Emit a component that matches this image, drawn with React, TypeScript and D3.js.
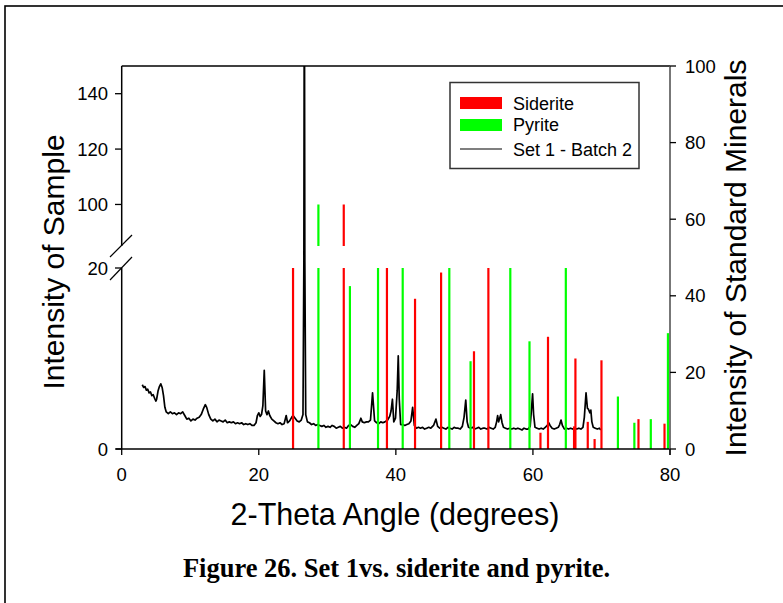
import React from "react";
import * as d3 from "d3";

// ---- data ----
const xTicks = [0, 20, 40, 60, 80];
const leftTicks = [0, 20, 100, 120, 140];
const rightTicks = [0, 20, 40, 60, 80, 100];

// Siderite standard lines: [2-theta, relative intensity]
const sideriteAngles = [25.0, 32.4, 38.7, 42.8, 46.6, 51.4, 53.5, 61.1, 62.2, 66.0, 66.2, 68.0, 69.0, 70.0, 75.4, 79.2];
const sideriteValues = [45, 100, 30, 16.6, 19.5, 10.8, 35, 1.8, 12.4, 2.5, 10.0, 3.0, 1.1, 9.8, 3.3, 2.8];

// Pyrite standard lines
const pyriteAngles = [28.7, 33.3, 37.4, 41.0, 47.8, 50.9, 56.7, 59.5, 64.8, 72.4, 74.8, 77.2, 79.7];
const pyriteValues = [100, 18.0, 60, 50, 40, 9.7, 70, 11.9, 30, 5.8, 2.9, 3.3, 12.8];

// Sample: Set 1 - Batch 2 (angle, intensity)
const sampleAngles = [
  3.0, 3.2, 3.4, 3.6, 3.8, 4.0, 4.2, 4.4, 4.6, 4.8, 5.0, 5.1, 5.3, 5.5, 5.7, 5.9, 6.1, 6.3, 6.5, 6.8,
  7.1, 7.4, 7.7, 8.0, 8.3, 8.6, 8.9, 9.2, 9.5, 9.8, 10.1, 10.4, 10.7, 11.0, 11.3, 11.6, 11.9, 12.2, 12.4, 12.7,
  13.0, 13.3, 13.6, 13.9, 14.2, 14.5, 14.8, 15.1, 15.4, 15.7, 16.0, 16.3, 16.6, 16.9, 17.2, 17.5, 17.8, 18.1, 18.4, 18.7,
  19.0, 19.3, 19.6, 19.8, 20.0, 20.2, 20.4, 20.6, 20.8, 21.0, 21.2, 21.4, 21.6, 21.9, 22.2, 22.5, 22.8, 23.1, 23.4, 23.7,
  24.0, 24.2, 24.5, 24.8, 25.0, 25.3, 25.6, 25.9, 26.2, 26.45, 26.58, 26.65, 26.72, 26.85, 27.1, 27.4, 27.7, 28.0, 28.3, 28.6,
  28.9, 29.2, 29.5, 29.8, 30.1, 30.4, 30.7, 31.0, 31.3, 31.6, 31.9, 32.2, 32.5, 32.8, 33.1, 33.4, 33.7, 34.0, 34.3, 34.6,
  34.9, 35.1, 35.4, 35.7, 36.0, 36.3, 36.6, 36.9, 37.2, 37.5, 37.8, 38.1, 38.4, 38.8, 39.1, 39.3, 39.5, 39.7, 39.95, 40.2,
  40.35, 40.5, 40.7, 41.0, 41.3, 41.6, 41.9, 42.2, 42.45, 42.7, 43.0, 43.3, 43.6, 43.9, 44.2, 44.5, 44.8, 45.1, 45.5, 45.85,
  46.1, 46.4, 46.7, 47.0, 47.3, 47.6, 47.9, 48.2, 48.5, 48.8, 49.1, 49.4, 49.7, 49.95, 50.2, 50.4, 50.6, 50.9, 51.2, 51.5,
  51.8, 52.1, 52.4, 52.7, 53.0, 53.3, 53.6, 53.9, 54.2, 54.5, 54.7, 54.85, 55.0, 55.15, 55.3, 55.5, 55.7, 56.0, 56.3, 56.6,
  56.9, 57.2, 57.5, 57.8, 58.1, 58.4, 58.7, 59.0, 59.3, 59.6, 59.8, 59.95, 60.1, 60.3, 60.6, 60.9, 61.2, 61.5, 61.8, 62.1,
  62.3, 62.5, 62.8, 63.1, 63.4, 63.7, 63.9, 64.1, 64.3, 64.6, 64.9, 65.2, 65.5, 65.8, 66.1, 66.4, 66.7, 67.0, 67.3, 67.5,
  67.75, 67.95, 68.1, 68.3, 68.45, 68.6, 68.8, 69.1, 69.4, 69.7, 69.9,
];
const sampleValues = [
  7.1, 6.8, 6.9, 6.5, 6.6, 6.2, 6.3, 5.9, 6.0, 5.6, 5.3, 5.5, 6.4, 6.9, 7.2, 6.8, 5.9, 4.6, 4.1, 3.9,
  4.1, 3.9, 4.0, 3.8, 4.0, 3.9, 4.1, 3.7, 3.3, 3.4, 3.1, 3.3, 3.2, 3.4, 3.5, 3.8, 4.4, 4.9, 4.6, 3.8,
  3.3, 3.1, 3.3, 3.0, 3.2, 3.1, 3.0, 3.2, 2.9, 3.0, 2.9, 3.0, 2.8, 2.9, 2.8, 2.9, 2.7, 2.8, 2.7, 2.8,
  2.6, 2.6, 2.9, 3.7, 4.0, 3.6, 3.8, 4.8, 8.7, 4.2, 3.8, 4.2, 3.7, 3.3, 3.1, 2.9, 2.8, 2.9, 2.7, 2.8,
  3.7, 2.9, 3.1, 3.5, 3.7, 3.4, 3.1, 3.0, 3.2, 3.8, 40, 200, 40, 3.8, 3.0, 2.9, 2.7, 2.8, 2.6, 2.7,
  2.6, 2.5, 2.6, 2.4, 2.5, 2.4, 2.6, 2.5, 2.3, 2.4, 2.5, 2.3, 2.4, 2.3, 2.6, 2.7, 2.5, 2.4, 2.6, 2.8,
  3.4, 3.0, 2.9, 3.0, 3.0, 3.2, 6.2, 3.1, 2.9, 2.8, 3.0, 2.9, 3.0, 3.2, 3.6, 4.2, 5.5, 3.0, 3.4, 6.5,
  10.3, 5.5, 2.7, 2.7, 2.6, 2.7, 2.8, 3.1, 4.6, 2.6, 2.3, 2.4, 2.3, 2.4, 2.2, 2.3, 2.4, 2.3, 2.6, 3.3,
  2.5, 2.3, 2.4, 2.3, 2.2, 2.4, 2.3, 2.2, 2.4, 2.3, 2.3, 2.2, 2.5, 3.5, 5.4, 3.0, 2.4, 2.3, 2.4, 2.2,
  2.3, 2.4, 2.2, 2.3, 2.3, 2.2, 2.4, 2.3, 2.2, 2.4, 3.0, 3.7, 3.0, 3.4, 3.8, 2.9, 2.4, 2.3, 2.2, 2.3,
  2.2, 2.3, 2.2, 2.3, 2.2, 2.1, 2.3, 2.2, 2.2, 2.5, 4.5, 6.1, 3.8, 2.4, 2.3, 2.2, 2.3, 2.2, 2.4, 2.6,
  2.9, 2.6, 2.3, 2.2, 2.3, 2.4, 2.7, 3.2, 2.6, 2.2, 2.3, 2.2, 2.3, 2.2, 2.3, 2.2, 2.3, 2.2, 2.4, 3.5,
  6.2, 4.5, 4.4, 4.0, 4.3, 3.0, 2.4, 2.3, 2.2, 2.3, 2.1,
];

const FONT = "'Liberation Sans', Arial, Helvetica, sans-serif";

export default function App() {
  const L = 121.7, R = 670, T = 66, B = 449;
  const x = d3.scaleLinear().domain([0, 80]).range([L, R]);
  // broken left axis: 0-20 lower segment, 85-150 upper segment
  const yLow = d3.scaleLinear().domain([0, 20]).range([B, 268]);
  const yHigh = d3.scaleLinear().domain([85, 150]).range([246, T]);
  const yLine = d3.scaleLinear().domain([0, 20, 85, 150]).range([B, 268, 246, T]);
  const yRight = d3.scaleLinear().domain([0, 100]).range([B, T]);

  const sample = sampleAngles.map((a, i) => [a, sampleValues[i]] as [number, number]);
  const linePath = d3.line<[number, number]>().x((d) => x(d[0])).y((d) => yLine(d[1]))(sample) || "";

  const bars = (angles: number[], values: number[], color: string, key: string) =>
    angles.map((a, i) => {
      const v = values[i];
      const segs = [
        <line key={key + "l" + i} x1={x(a)} x2={x(a)} y1={yLow(0)} y2={yLow(Math.min(v, 20))} stroke={color} strokeWidth={2.2} />,
      ];
      if (v > 85) {
        segs.push(
          <line key={key + "h" + i} x1={x(a)} x2={x(a)} y1={yHigh(85)} y2={yHigh(Math.min(v, 150))} stroke={color} strokeWidth={2.2} />
        );
      }
      return segs;
    });

  return (
    <svg width={783} height={603} style={{ position: "absolute", left: 0, top: 0, background: "#fff" }} fontFamily={FONT}>
      <rect x={0} y={0} width={783} height={603} fill="#fff" />
      <rect x={5} y={6} width={800} height={700} fill="none" stroke="#000" strokeWidth={1.6} />
      <defs>
        <clipPath id="plotClip">
          <rect x={L} y={T} width={R - L} height={B - T} />
        </clipPath>
      </defs>

      {/* sample trace */}
      <g clipPath="url(#plotClip)">
        <path d={linePath} fill="none" stroke="#000" strokeWidth={1.7} strokeLinejoin="round" />
      </g>

      {/* standard lines */}
      <g clipPath="url(#plotClip)">
        {bars(sideriteAngles, sideriteValues, "#ff0000", "s")}
        {bars(pyriteAngles, pyriteValues, "#00ff00", "p")}
      </g>

      {/* frame */}
      <line x1={L} x2={R} y1={T} y2={T} stroke="#000" strokeWidth={1.5} />
      <line x1={116} x2={R} y1={B} y2={B} stroke="#000" strokeWidth={1.5} />
      <line x1={R} x2={R} y1={T} y2={B + 6} stroke="#555" strokeWidth={1.6} />
      {/* left broken axis */}
      <line x1={L} x2={L} y1={T} y2={yHigh(85)} stroke="#000" strokeWidth={1.5} />
      <line x1={L} x2={L} y1={yLow(20)} y2={B} stroke="#000" strokeWidth={1.5} />
      <line x1={110} y1={257} x2={132} y2={235} stroke="#000" strokeWidth={1.2} />
      <line x1={110} y1={280} x2={132} y2={257} stroke="#000" strokeWidth={1.2} />

      {/* left ticks */}
      {leftTicks.map((t) => {
        const yy = t <= 20 ? yLow(t) : yHigh(t);
        return (
          <g key={"lt" + t}>
            <line x1={115} x2={L} y1={yy} y2={yy} stroke="#000" strokeWidth={1.3} />
            <text x={108} y={yy} dy="0.36em" textAnchor="end" fontSize={18.5} fill="#000">{t}</text>
          </g>
        );
      })}
      {/* x ticks */}
      {xTicks.map((t) => (
        <g key={"xt" + t}>
          <line x1={x(t)} x2={x(t)} y1={B} y2={B + 6} stroke="#000" strokeWidth={1.3} />
          <text x={x(t)} y={481} textAnchor="middle" fontSize={18.5} fill="#000">{t}</text>
        </g>
      ))}
      {/* right ticks */}
      {rightTicks.map((t) => (
        <g key={"rt" + t}>
          <line x1={R} x2={R + 6} y1={yRight(t)} y2={yRight(t)} stroke="#000" strokeWidth={1.3} />
          <text x={685} y={yRight(t)} dy="0.36em" textAnchor="start" fontSize={18.5} fill="#000">{t}</text>
        </g>
      ))}

      {/* axis titles */}
      <text x={395} y={525} textAnchor="middle" fontSize={30.5} fill="#000">2-Theta Angle (degrees)</text>
      <text transform="translate(64,262) rotate(-90)" textAnchor="middle" fontSize={30} fill="#000">Intensity of Sample</text>
      <text transform="translate(746,258) rotate(-90)" textAnchor="middle" fontSize={30} fill="#000">Intensity of Standard Minerals</text>

      {/* legend */}
      <rect x={450} y={82.5} width={189} height={86} fill="#fff" stroke="#333" strokeWidth={1.5} />
      <rect x={460} y={97} width={42} height={12} fill="#ff0000" />
      <rect x={460} y={119} width={42} height={12} fill="#00ff00" />
      <line x1={460} x2={502} y1={149} y2={149} stroke="#000" strokeWidth={1.2} />
      <text x={513} y={109.5} fontSize={18} fill="#000">Siderite</text>
      <text x={513} y={130.5} fontSize={18} fill="#000">Pyrite</text>
      <text x={513} y={155.5} fontSize={18} fill="#000">Set 1 - Batch 2</text>

      {/* caption */}
      <text x={396.5} y={577} textAnchor="middle" fontSize={26.5} fontWeight="bold" fontFamily="'Liberation Serif', 'Times New Roman', serif" fill="#000">
        Figure 26. Set 1vs. siderite and pyrite.
      </text>
    </svg>
  );
}
